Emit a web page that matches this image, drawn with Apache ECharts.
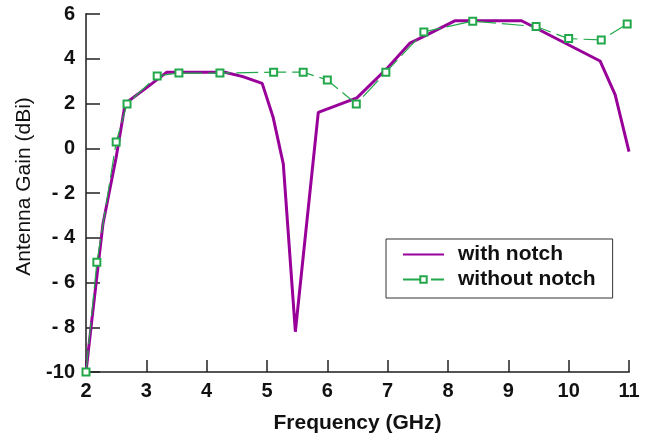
<!DOCTYPE html>
<html>
<head>
<meta charset="utf-8">
<script src="https://cdn.jsdelivr.net/npm/echarts@6/dist/echarts.min.js"></script>
<style>html,body{margin:0;padding:0;background:#fff;}#c{width:657px;height:441px;}</style>
</head>
<body>
<div id="c"></div>
<script>
// Frequency (GHz) / gain (dBi) pairs
const withNotchFreq = [2.0, 2.1, 2.28, 2.5, 2.65, 3.0, 3.34, 4.0, 4.3, 4.6, 4.92, 5.1, 5.27, 5.47, 5.5, 5.85, 6.49, 7.0, 7.37, 7.6, 8.12, 9.22, 10.52, 10.77, 11.0];
const withNotchGain = [-10.0, -7.6, -3.4, -0.4, 2.0, 2.7, 3.4, 3.4, 3.4, 3.2, 2.9, 1.4, -0.7, -8.2, -8.2, 1.6, 2.25, 3.6, 4.7, 5.0, 5.7, 5.7, 3.9, 2.4, -0.15];
const withoutNotchFreq = [2.0, 2.18, 2.5, 2.68, 3.18, 3.54, 4.22, 5.11, 5.6, 6.0, 6.48, 6.97, 7.6, 8.41, 9.46, 10.0, 10.54, 10.97];
const withoutNotchGain = [-10.0, -5.1, 0.28, 1.98, 3.23, 3.36, 3.36, 3.4, 3.4, 3.05, 1.98, 3.4, 5.2, 5.68, 5.44, 4.9, 4.84, 5.55];
const xTicks = [2, 3, 4, 5, 6, 7, 8, 9, 10, 11];
const yTicks = [-10, -8, -6, -4, -2, 0, 2, 4, 6];

const zip = (a, b) => a.map((v, i) => [v, b[i]]);
const chart = echarts.init(document.getElementById('c'), null, {renderer: 'canvas'});
const font = 'Liberation Sans, Arial, sans-serif';
chart.setOption({
  animation: false,
  backgroundColor: '#fff',
  grid: {left: 86, right: 28, top: 14, bottom: 69},
  xAxis: {
    type: 'value', min: xTicks[0], max: xTicks[xTicks.length - 1], interval: 1,
    name: 'Frequency (GHz)', nameLocation: 'middle', nameGap: 41,
    nameTextStyle: {fontFamily: font, fontSize: 21, fontWeight: 'bold', color: '#111'},
    axisLine: {onZero: false, lineStyle: {color: '#555', width: 2}},
    axisTick: {inside: true, length: 12, lineStyle: {color: '#222', width: 1.5}},
    axisLabel: {fontFamily: font, fontSize: 20, fontWeight: 'bold', color: '#111', margin: 9},
    splitLine: {show: false}
  },
  yAxis: {
    type: 'value', min: yTicks[0], max: yTicks[yTicks.length - 1], interval: 2,
    name: 'Antenna Gain (dBi)', nameLocation: 'middle', nameGap: 51,
    nameTextStyle: {fontFamily: font, fontSize: 21, color: '#111', padding: [0, 0, 0, 13]},
    axisLine: {show: true, onZero: false, lineStyle: {color: '#555', width: 2}},
    axisTick: {show: true, inside: true, length: 14, lineStyle: {color: '#222', width: 1.5}},
    axisLabel: {fontFamily: font, fontSize: 20, fontWeight: 'bold', color: '#111', margin: 11,
      formatter: v => (v < 0 && v > -10) ? '- ' + Math.abs(v) : String(v)},
    splitLine: {show: false}
  },
  legend: {
    orient: 'vertical', left: 386, top: 239,
    padding: [5, 17, 8, 16], itemGap: 4, itemWidth: 41, itemHeight: 8,
    borderColor: '#333', borderWidth: 1, backgroundColor: '#fff',
    textStyle: {fontFamily: font, fontSize: 21, fontWeight: 'bold', color: '#111', padding: [0, 0, 0, 9]},
    data: [
      {name: 'with notch', itemStyle: {color: 'rgba(0,0,0,0)', borderWidth: 0}},
      {name: 'without notch'}
    ]
  },
  series: [
    {
      name: 'with notch', type: 'line', data: zip(withNotchFreq, withNotchGain),
      showSymbol: false, symbol: 'none', lineStyle: {color: '#990099', width: 3},
      itemStyle: {color: '#990099'}, z: 2
    },
    {
      name: 'without notch', type: 'line', data: zip(withoutNotchFreq, withoutNotchGain),
      symbol: 'emptyRect', symbolSize: 7,
      lineStyle: {color: '#22a84a', width: 1.2, type: [22, 6]},
      itemStyle: {color: '#22a84a', borderColor: '#22a84a', borderWidth: 1.5}, z: 3
    }
  ]
});
</script>
</body>
</html>
